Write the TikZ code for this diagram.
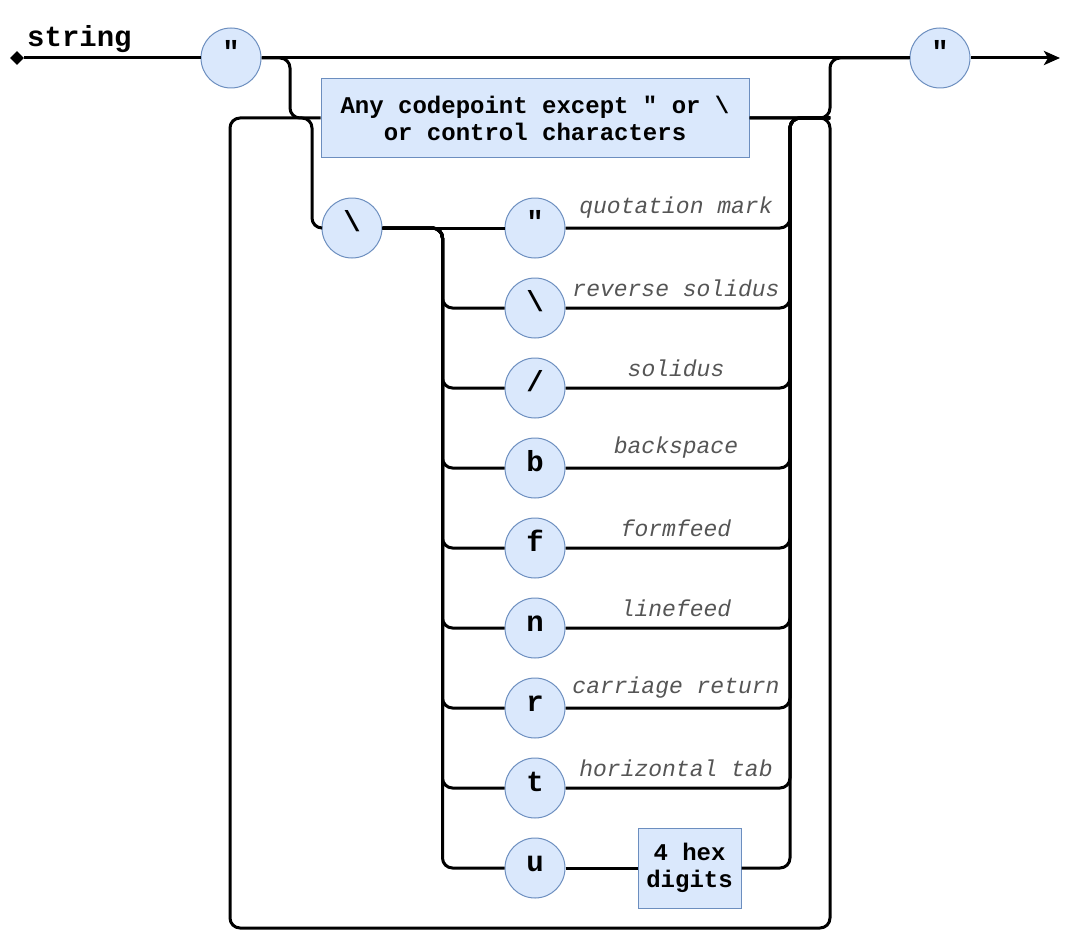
\documentclass[tikz,border=0pt]{standalone}
\usepackage{fontspec}
\usepackage{tikz}
\usetikzlibrary{shapes.geometric, arrows.meta, positioning}
\newfontfamily\railfont{Liberation Mono}
\definecolor{cFill}{RGB}{218,232,252}
\definecolor{cEdge}{RGB}{108,142,191}
\definecolor{cNote}{RGB}{85,85,85}
\tikzset{
  tokennode/.style={circle, draw=cEdge, fill=cFill, line width=1pt,
                    minimum size=60pt, inner sep=0pt,
                    text height=0.8em, text depth=0.18em,
                    font=\railfont\bfseries\fontsize{29}{32}\selectfont},
  rulebox/.style={rectangle, draw=cEdge, fill=cFill, line width=1pt,
                  align=center, inner sep=0pt,
                  font=\railfont\bfseries\fontsize{24}{27}\selectfont},
  startnode/.style={diamond, fill=black, minimum size=14pt, inner sep=0pt},
  titlenode/.style={inner sep=0pt,
                    font=\railfont\bfseries\fontsize{29}{32}\selectfont},
  notenode/.style={inner sep=0pt, text=cNote,
                   font=\railfont\itshape\fontsize{23}{23}\selectfont},
  rail/.style={line width=3pt, rounded corners=10pt, color=black},
  railarrow/.style={rail, -{Stealth[length=16pt, width=14pt, inset=4pt]}}
}
\begin{document}
\begin{tikzpicture}[x=1pt, y=-1pt]
  \useasboundingbox (0,0) rectangle (1070,931);

  % main track
  \node[startnode] (start) at (17,58) {};
  \node[titlenode, anchor=base west] (title) at (27,47) {string};
  \node[tokennode] (q_open) at (231,58) {"};
  \node[tokennode] (q_close) at (940,58) {"};
  \coordinate (finish) at (1060,58);

  % plain characters
  \node[rulebox, minimum width=428pt, minimum height=78pt] (chars) at (535,118)
      {Any codepoint except " or \textbackslash\\or control characters};

  % escape sequences
  \node[tokennode] (bs) at (352,228) {\textbackslash};
  \node[tokennode] (esc_quote) at (535,228) {"};
  \node[tokennode, below=19pt of esc_quote] (esc_rsol) {\textbackslash};
  \node[tokennode, below=19pt of esc_rsol] (esc_sol) {/};
  \node[tokennode, below=19pt of esc_sol] (esc_b) {b};
  \node[tokennode, below=19pt of esc_b] (esc_f) {f};
  \node[tokennode, below=19pt of esc_f] (esc_n) {n};
  \node[tokennode, below=19pt of esc_n] (esc_r) {r};
  \node[tokennode, below=19pt of esc_r] (esc_t) {t};
  \node[tokennode, below=19pt of esc_t] (esc_u) {u};
  \node[rulebox, minimum width=103pt, minimum height=80pt, right=72pt of esc_u] (hex)
      {4 hex\\digits};

  \node[notenode] (note_quote) at (676,208) {quotation mark};
  \node[notenode] (note_rsol) at (676,288) {reverse solidus};
  \node[notenode] (note_sol) at (676,368) {solidus};
  \node[notenode] (note_b) at (676,448) {backspace};
  \node[notenode] (note_f) at (676,528) {formfeed};
  \node[notenode] (note_n) at (676,608) {linefeed};
  \node[notenode] (note_r) at (676,688) {carriage return};
  \node[notenode] (note_t) at (676,768) {horizontal tab};

  % junctions
  \coordinate (in_drop) at (290,118);
  \coordinate (out_top) at (830,58);
  \coordinate (out_join) at (830,118);
  \coordinate (merge_top) at (790,118);
  \coordinate (loop_br) at (830,928);
  \coordinate (loop_tl) at (230,118);
  \coordinate (bs_drop) at (312,228);

  \draw[rail] (start) -- (q_open);
  \draw[rail] (q_open) -- (q_close);
  \draw[railarrow] (q_close) -- (finish);
  \draw[rail] (q_open) -| (in_drop) -- (chars);
  \draw[rail] (chars) -| (out_top) -- (q_close);
  \draw[rail] (chars) -| (loop_br) -| (loop_tl) -| (bs_drop) -- (bs);

  \draw[rail] (bs) -- (esc_quote);
  \draw[rail] (bs) -| ([xshift=-62pt]esc_rsol.west) -- (esc_rsol);
  \draw[rail] (bs) -| ([xshift=-62pt]esc_sol.west) -- (esc_sol);
  \draw[rail] (bs) -| ([xshift=-62pt]esc_b.west) -- (esc_b);
  \draw[rail] (bs) -| ([xshift=-62pt]esc_f.west) -- (esc_f);
  \draw[rail] (bs) -| ([xshift=-62pt]esc_n.west) -- (esc_n);
  \draw[rail] (bs) -| ([xshift=-62pt]esc_r.west) -- (esc_r);
  \draw[rail] (bs) -| ([xshift=-62pt]esc_t.west) -- (esc_t);
  \draw[rail] (bs) -| ([xshift=-62pt]esc_u.west) -- (esc_u);
  \draw[rail] (esc_u) -- (hex);

  \draw[rail] (esc_quote) -| (merge_top) -- (out_join);
  \draw[rail] (esc_rsol) -| (merge_top) -- (out_join);
  \draw[rail] (esc_sol) -| (merge_top) -- (out_join);
  \draw[rail] (esc_b) -| (merge_top) -- (out_join);
  \draw[rail] (esc_f) -| (merge_top) -- (out_join);
  \draw[rail] (esc_n) -| (merge_top) -- (out_join);
  \draw[rail] (esc_r) -| (merge_top) -- (out_join);
  \draw[rail] (esc_t) -| (merge_top) -- (out_join);
  \draw[rail] (hex) -| (merge_top) -- (out_join);

\end{tikzpicture}
\end{document}
